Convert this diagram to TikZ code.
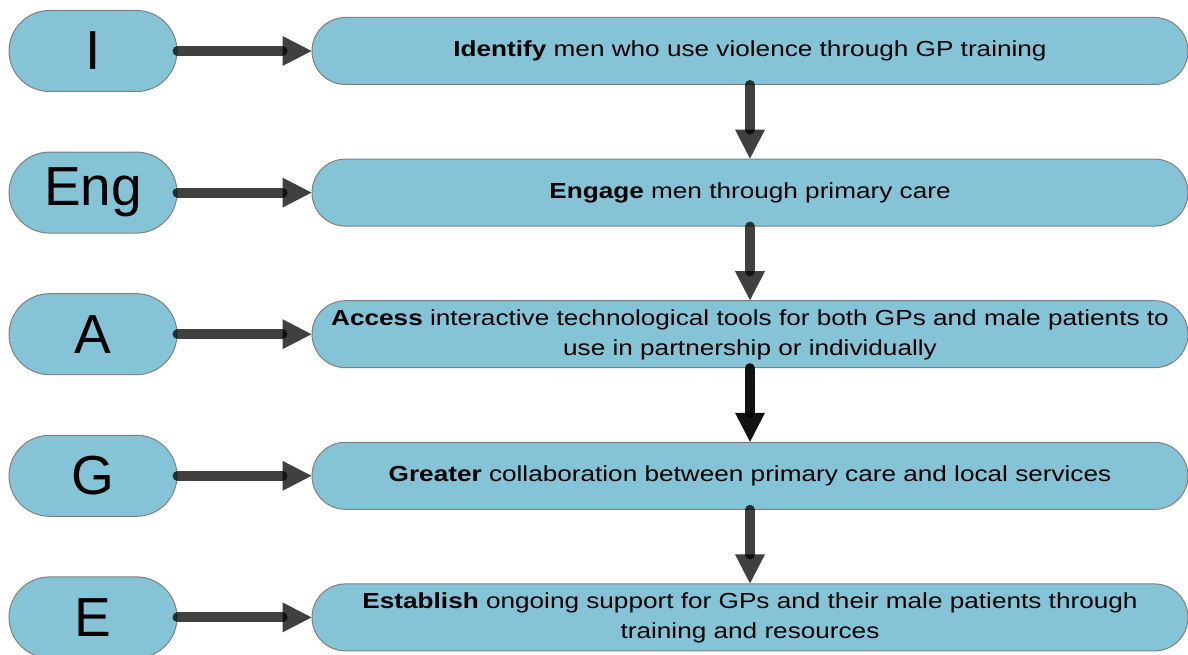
\documentclass[tikz,border=0pt]{standalone}
\usepackage{fontspec}
\setmainfont{Liberation Sans}
\newfontfamily\boxfont[FakeStretch=1.2]{Liberation Sans}
\usetikzlibrary{arrows.meta}
\definecolor{pillblue}{RGB}{133,196,214}
\definecolor{edgegray}{RGB}{128,128,128}
\begin{document}
\begin{tikzpicture}[x=1pt,y=-1pt,
 pill/.style={draw=edgegray, line width=1pt, fill=pillblue, rectangle, rounded corners=40.5pt,
   minimum width=168pt, minimum height=81pt, inner sep=0pt, font=\fontsize{55}{60}\selectfont},
 stepbox/.style={draw=edgegray, line width=1pt, fill=pillblue, rectangle, rounded corners=33.5pt,
   minimum width=876pt, minimum height=67pt, inner sep=0pt, text width=860pt, align=center,
   font=\boxfont\fontsize{21.8}{30}\selectfont},
 conn/.style={line width=10pt, line cap=round, draw=black, opacity=0.75,
   -{Triangle[length=29pt,width=30pt,line width=0pt,fill=black]}},
 conndark/.style={conn, opacity=0.93},
]
\useasboundingbox (0,0) rectangle (1188,655);
\clip (0,0) rectangle (1188,655);

\node[pill] (pI) at (93,51) {I};
\node[pill] (pEng) at (93,192.6) {Eng};
\node[pill] (pA) at (93,334.2) {A};
\node[pill] (pG) at (93,475.8) {G};
\node[pill] (pE) at (93,617.4) {E};

\node[stepbox] (bI) at (750,51) {\strut\textbf{Identify} men who use violence through GP training};
\node[stepbox] (bEng) at (750,192.6) {\strut\textbf{Engage} men through primary care};
\node[stepbox] (bA) at (750,334.2) {\strut\textbf{Access} interactive technological tools for both GPs and male patients to\\use in partnership or individually\strut};
\node[stepbox] (bG) at (750,475.8) {\strut\textbf{Greater} collaboration between primary care and local services};
\node[stepbox] (bE) at (750,617.4) {\strut\textbf{Establish} ongoing support for GPs and their male patients through\\training and resources\strut};

\draw[conn] (pI.east) -- (bI.west);
\draw[conn] (pEng.east) -- (bEng.west);
\draw[conn] (pA.east) -- (bA.west);
\draw[conn] (pG.east) -- (bG.west);
\draw[conn] (pE.east) -- (bE.west);

\draw[conn] (bI.south) -- (bEng.north);
\draw[conn] (bEng.south) -- (bA.north);
\draw[conndark] (bA.south) -- (bG.north);
\draw[conn] (bG.south) -- (bE.north);
\end{tikzpicture}
\end{document}
